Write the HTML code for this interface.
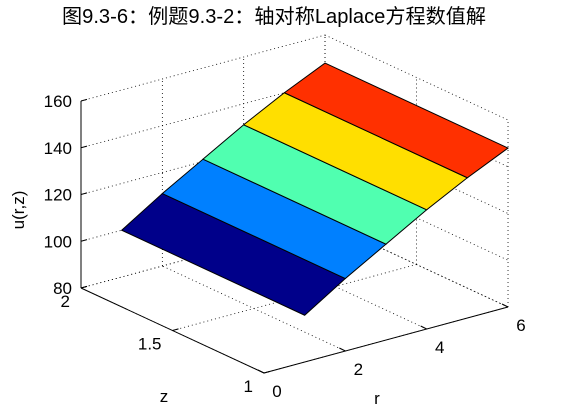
<!DOCTYPE html>
<html><head><meta charset="utf-8"><style>
body{margin:0;background:#fff}
svg{display:block;font-family:"Liberation Sans","Noto Sans CJK SC",sans-serif}
</style></head><body>
<svg id="chart" width="561" height="420" viewBox="0 0 561 420">
<rect width="561" height="420" fill="#fff"/>
<text x="274" y="23" font-size="20" text-anchor="middle" textLength="424" lengthAdjust="spacingAndGlyphs">图9.3-6：例题9.3-2：轴对称Laplace方程数值解</text>
<g id="grid"></g><g id="surf"></g><g id="axes"></g>
<text transform="translate(24,210) rotate(-90)" font-size="17" text-anchor="middle">u(r,z)</text>
<text x="164" y="402" font-size="17" text-anchor="middle">z</text>
<text x="377" y="404" font-size="17" text-anchor="middle">r</text>
</svg>
<script>
const rValues=[1,2,3,4,5,6];
const zValues=[1,2];
const uValues=[100,111,121,131,140,148];
const faceColors=['#00008a','#0080ff','#50ffb0','#ffdf00','#ff3000'];
const rTicks=[0,2,4,6];
const zTicks=[1,1.5,2];
const uTicks=[80,100,120,140,160];
const NS='http://www.w3.org/2000/svg';
function P(r,z,u){return [81+r*40.67+(2-z)*183, 288-r*11+(2-z)*85-(u-80)*2.3375];}
function mk(tag,attrs,parent){const e=document.createElementNS(NS,tag);for(const k in attrs)e.setAttribute(k,attrs[k]);document.getElementById(parent).appendChild(e);return e;}
function line(a,b,dotted,parent,name){const e=mk('line',{x1:a[0],y1:a[1],x2:b[0],y2:b[1],stroke:'#000','stroke-width':dotted?0.8:1,'stroke-dasharray':dotted?'1,3':''},parent);

}
rTicks.forEach(r=>{line(P(r,1,80),P(r,2,80),1,'grid','floor-grid-r');line(P(r,2,80),P(r,2,160),1,'grid','wall-grid-r');});
zTicks.forEach(z=>{line(P(0,z,80),P(6,z,80),1,'grid','floor-grid-z');line(P(6,z,80),P(6,z,160),1,'grid','wall-grid-z');});
uTicks.forEach(u=>{line(P(0,2,u),P(6,2,u),1,'grid','back-grid-u');line(P(6,2,u),P(6,1,u),1,'grid','side-grid-u');});
for(let i=0;i<rValues.length-1;i++){
 const pts=[P(rValues[i],zValues[0],uValues[i]),P(rValues[i],zValues[1],uValues[i]),P(rValues[i+1],zValues[1],uValues[i+1]),P(rValues[i+1],zValues[0],uValues[i+1])];
 const e=mk('polygon',{points:pts.map(p=>p.join(',')).join(' '),fill:faceColors[i],stroke:'#000','stroke-width':1},'surf');
 
 
}
line(P(0,2,80),P(0,2,160),0,'axes','u-axis-line');
line(P(0,2,80),P(0,1,80),0,'axes','z-axis-line');
line(P(0,1,80),P(6,1,80),0,'axes','r-axis-line');
uTicks.forEach(u=>{const p=P(0,2,u);line(p,[p[0]+6,p[1]-1.6],0,'axes','u-tick');
 const t=mk('text',{x:p[0]-9,y:p[1]+6,'font-size':17,'text-anchor':'end'},'axes');t.textContent=u;
 
 });
zTicks.forEach(z=>{const p=P(0,z,80);line(p,[p[0]+6,p[1]-1.6],0,'axes','z-tick');
 const t=mk('text',{x:p[0]-11,y:p[1]+19,'font-size':17,'text-anchor':'end'},'axes');t.textContent=z;
 
 });
rTicks.forEach(r=>{const p=P(r,1,80);line(p,[p[0]-6,p[1]-3],0,'axes','r-tick');
 const t=mk('text',{x:p[0]+13,y:p[1]+24,'font-size':17,'text-anchor':'middle'},'axes');t.textContent=r;
 
 });
</script>
</body></html>
